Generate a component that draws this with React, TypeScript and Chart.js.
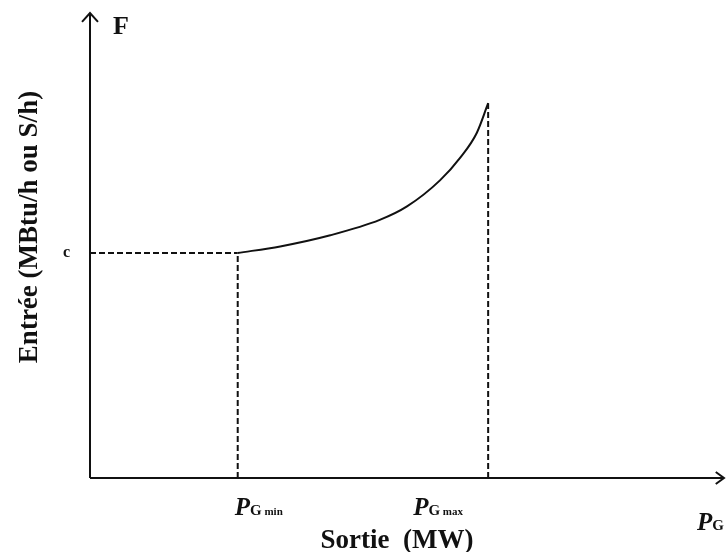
import React, { useEffect, useRef } from "react";
import { Chart, registerables } from "chart.js";
Chart.register(...registerables);

// Data (arbitrary units: x 0..100 along output axis, y 0..100 along input axis)
const curveX = [23.3, 30.0, 37.9, 45.7, 50.0, 55.2, 58.4, 61.0, 62.8];
const curveY = [48.4, 49.8, 52.2, 55.5, 58.4, 64.0, 68.9, 74.2, 80.6];
const pgMin = 23.3;
const pgMax = 62.8;
const cLevel = 48.4;
const fAtPgMax = 80.6;
const xLabel = "Sortie  (MW)";
const yLabel = "Entrée (MBtu/h ou S/h)";

const SERIF = '"Liberation Serif", "DejaVu Serif", serif';

const labelPlugin = {
  id: "labels",
  afterDraw(chart: any) {
    const ctx = chart.ctx as CanvasRenderingContext2D;
    const xs = chart.scales.x;
    const ys = chart.scales.y;
    ctx.save();
    ctx.fillStyle = "#111";
    ctx.textBaseline = "alphabetic";
    ctx.textAlign = "left";
    // F
    ctx.font = `bold 26px ${SERIF}`;
    ctx.fillText("F", xs.getPixelForValue(0) + 23, ys.getPixelForValue(100) + 21);
    // c
    ctx.font = `bold 16px ${SERIF}`;
    ctx.textBaseline = "middle";
    ctx.fillText("c", xs.getPixelForValue(0) - 27, ys.getPixelForValue(cLevel));
    ctx.textBaseline = "alphabetic";

    const drawPG = (x: number, y: number, sub: string) => {
      ctx.font = `italic bold 25px ${SERIF}`;
      ctx.fillText("P", x, y);
      let w = ctx.measureText("P").width;
      ctx.font = `bold 15px ${SERIF}`;
      ctx.fillText("G", x + w, y);
      w += ctx.measureText("G").width;
      if (sub) {
        ctx.font = `bold 11px ${SERIF}`;
        ctx.fillText(" " + sub, x + w, y);
      }
    };
    const base = ys.getPixelForValue(0);
    drawPG(xs.getPixelForValue(pgMin) - 3, base + 37, "min");
    drawPG(xs.getPixelForValue(pgMax) - 75, base + 37, "max");
    drawPG(697, base + 52, "");

    // x title
    ctx.font = `bold 27px ${SERIF}`;
    ctx.textAlign = "center";
    ctx.fillText(xLabel, 397, 548);

    // y title
    ctx.translate(30, 227);
    ctx.rotate(-Math.PI / 2);
    ctx.textBaseline = "middle";
    ctx.fillText(yLabel, 0, 0);
    ctx.restore();
  },
};

export default function App() {
  const ref = useRef<HTMLCanvasElement>(null);
  useEffect(() => {
    const canvas = ref.current!;
    const black = "#111";
    const dash = [6, 3];
    const chart = new Chart(canvas, {
      type: "line",
      data: {
        datasets: [
          {
            data: curveX.map((x, i) => ({ x, y: curveY[i] })),
            borderColor: black,
            borderWidth: 2,
            pointRadius: 0,
            cubicInterpolationMode: "monotone",
          },
          {
            data: [{ x: 0, y: cLevel }, { x: pgMin, y: cLevel }],
            borderColor: black,
            borderWidth: 2,
            borderDash: dash,
            pointRadius: 0,
          },
          {
            data: [{ x: pgMin, y: 0 }, { x: pgMin, y: cLevel }],
            borderColor: black,
            borderWidth: 2,
            borderDash: dash,
            pointRadius: 0,
          },
          {
            data: [{ x: pgMax, y: 0 }, { x: pgMax, y: fAtPgMax }],
            borderColor: black,
            borderWidth: 2,
            borderDash: dash,
            pointRadius: 0,
          },
          {
            data: [{ x: 0, y: 0 }, { x: 0, y: 100 }],
            borderColor: black,
            borderWidth: 2,
            pointRadius: 0,
            clip: false,
          },
          {
            data: [{ x: 0, y: 0 }, { x: 100, y: 0 }],
            borderColor: black,
            borderWidth: 2,
            pointRadius: 0,
            clip: false,
          },
          {
            data: [{ x: -1.26, y: 98.1 }, { x: 0, y: 100 }, { x: 1.26, y: 98.1 }],
            borderColor: black,
            borderWidth: 2,
            pointRadius: 0,
            clip: false,
          },
          {
            data: [{ x: 98.7, y: 1.3 }, { x: 100, y: 0 }, { x: 98.7, y: -1.3 }],
            borderColor: black,
            borderWidth: 2,
            pointRadius: 0,
            clip: false,
          },
        ] as any,
      },
      options: {
        animation: false,
        responsive: false,
        layout: { padding: { left: 90, right: 2, top: 13, bottom: 74 } },
        plugins: { legend: { display: false }, tooltip: { enabled: false } },
        scales: {
          x: { type: "linear", min: 0, max: 100, display: false },
          y: { type: "linear", min: 0, max: 100, display: false },
        },
      },
      plugins: [labelPlugin],
    });
    return () => chart.destroy();
  }, []);
  return (
    <div style={{ position: "fixed", left: 0, top: 0, width: 726, height: 552, background: "#fff" }}>
      <canvas ref={ref} width={726} height={552} />
    </div>
  );
}
